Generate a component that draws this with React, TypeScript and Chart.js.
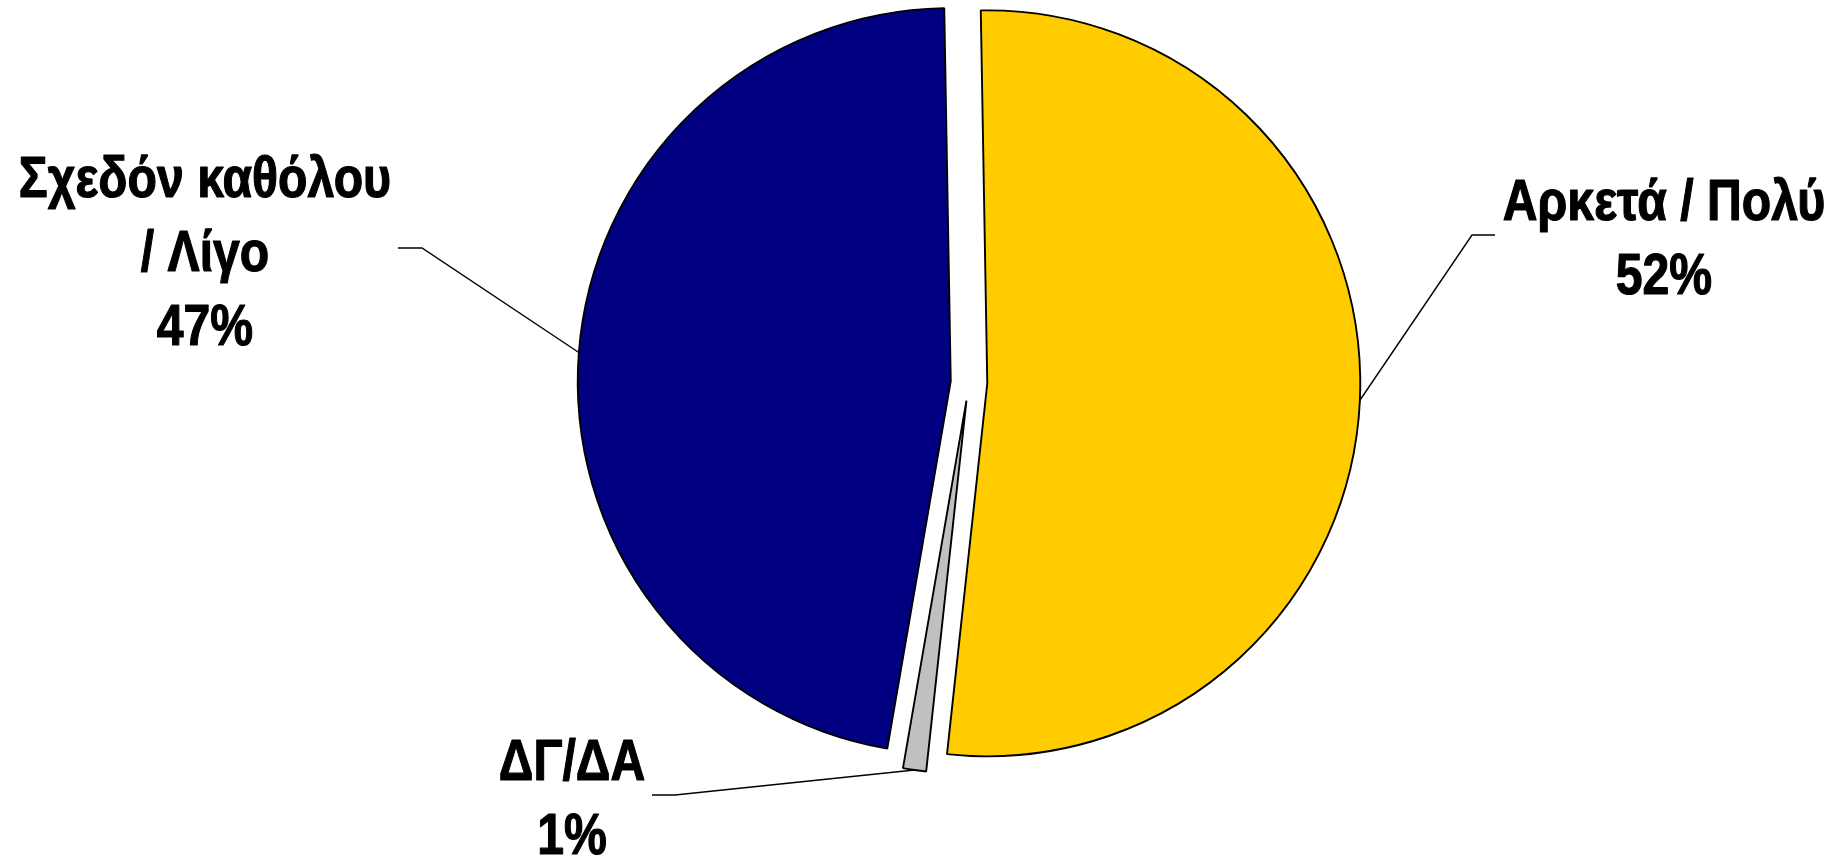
import React, { useEffect, useRef } from "react";
import { Chart, registerables } from "chart.js";

Chart.register(...registerables);

// ---- data ----
const categories = ["Αρκετά / Πολύ", "ΔΓ/ΔΑ", "Σχεδόν καθόλου / Λίγο"];
const categoryLines = [["Αρκετά / Πολύ"], ["ΔΓ/ΔΑ"], ["Σχεδόν καθόλου", "/ Λίγο"]];
const values = [52, 1, 47];
const colors = ["#FFCC00", "#C0C0C0", "#000080"];

// ---- layout (positions / styles only) ----
const EXPLODE = 18.3;
const labelLayout = [
  { elbow: [1472, 235], end: [1495, 235], cx: 1664, y0: 220 },
  { elbow: [675, 795], end: [652, 795], cx: 572, y0: 780 },
  { elbow: [422, 248], end: [398, 248], cx: 205, y0: 197 },
];
const LINE_H = 74;
const FONT = 'bold 57px "Liberation Sans", Arial, sans-serif';
const SCALE_X = 0.845;

const explodePlugin = {
  id: "explodedArcs",
  beforeDatasetDraw(chart: any, args: any) {
    const ctx = chart.ctx as CanvasRenderingContext2D;
    const meta = args.meta;
    meta.data.forEach((el: any) => {
      const mid = (el.startAngle + el.endAngle) / 2;
      ctx.save();
      ctx.translate(Math.cos(mid) * EXPLODE, Math.sin(mid) * EXPLODE);
      el.draw(ctx, chart.chartArea);
      ctx.restore();
    });
    return false;
  },
  afterDatasetsDraw(chart: any) {
    const ctx = chart.ctx as CanvasRenderingContext2D;
    const meta = chart.getDatasetMeta(0);
    const total = values.reduce((a, b) => a + b, 0);
    meta.data.forEach((el: any, i: number) => {
      const mid = (el.startAngle + el.endAngle) / 2;
      const r = el.outerRadius + EXPLODE;
      const sx = el.x + Math.cos(mid) * r;
      const sy = el.y + Math.sin(mid) * r;
      const lay = labelLayout[i];
      ctx.save();
      ctx.strokeStyle = "#000";
      ctx.lineWidth = 1.4;
      ctx.beginPath();
      ctx.moveTo(sx, sy);
      ctx.lineTo(lay.elbow[0], lay.elbow[1]);
      ctx.lineTo(lay.end[0], lay.end[1]);
      ctx.stroke();
      ctx.fillStyle = "#000";
      ctx.strokeStyle = "#000";
      ctx.lineWidth = 1.2;
      ctx.lineJoin = "round";
      ctx.font = FONT;
      ctx.textAlign = "center";
      ctx.textBaseline = "alphabetic";
      const lines = [...categoryLines[i], `${Math.round((values[i] / total) * 100)}%`];
      lines.forEach((t, k) => {
        ctx.save();
        ctx.translate(lay.cx, lay.y0 + k * LINE_H);
        ctx.scale(SCALE_X, 1);
        ctx.fillText(t, 0, 0);
        ctx.strokeText(t, 0, 0);
        ctx.restore();
      });
      ctx.restore();
    });
  },
};

export default function App() {
  const ref = useRef<HTMLCanvasElement | null>(null);
  useEffect(() => {
    if (!ref.current) return;
    const chart = new Chart(ref.current, {
      type: "pie",
      data: {
        labels: categories,
        datasets: [
          {
            data: values,
            backgroundColor: colors,
            borderColor: "#000",
            borderWidth: 1.9,
            hoverOffset: 0,
            radius: 373,
          } as any,
        ],
      },
      options: {
        responsive: false,
        animation: false,
        devicePixelRatio: 1,
        events: [],
        rotation: -1,
        layout: { padding: { left: 95, right: 0, top: 0, bottom: 94 } },
        plugins: { legend: { display: false }, tooltip: { enabled: false } },
      },
      plugins: [explodePlugin],
    });
    return () => chart.destroy();
  }, []);
  return (
    <div style={{ position: "absolute", left: 0, top: 0, width: 1843, height: 859, background: "#fff" }}>
      <canvas ref={ref} width={1843} height={859} style={{ display: "block" }} />
    </div>
  );
}
